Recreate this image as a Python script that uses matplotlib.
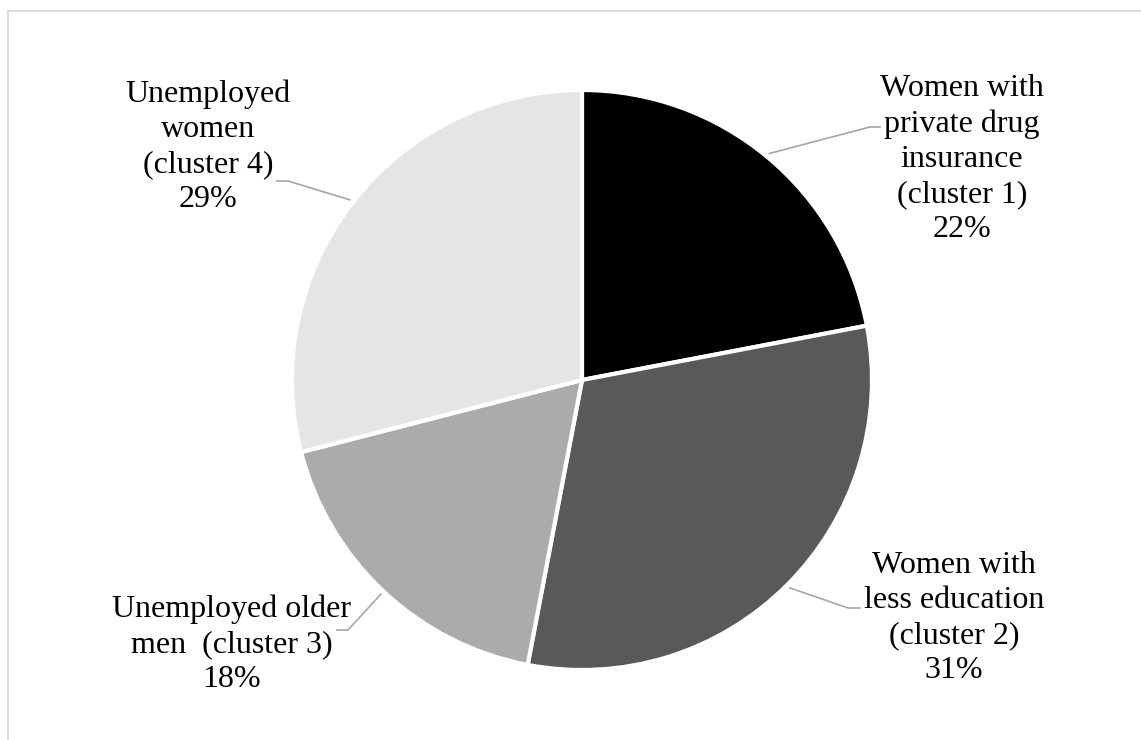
import numpy as np
import matplotlib
matplotlib.use("Agg")
import matplotlib.pyplot as plt
from matplotlib.patches import Rectangle

# Cluster shares (percent), clockwise from 12 o'clock
labels = [
    "Women with\nprivate drug\ninsurance\n(cluster 1)",
    "Women with\nless education\n(cluster 2)",
    "Unemployed older\nmen  (cluster 3)",
    "Unemployed\nwomen\n(cluster 4)",
]
shares = [22, 31, 18, 29]
colors = ["#000000", "#595959", "#ababab", "#e5e5e5"]

W, H = 1141, 740
plt.rcParams["font.family"] = ["Liberation Serif", "DejaVu Serif"]

fig = plt.figure(figsize=(W / 100, H / 100), dpi=100)
ax = fig.add_axes([0, 0, 1, 1])
ax.set_xlim(0, W)
ax.set_ylim(0, H)
ax.set_aspect("equal")
ax.axis("off")

# outer frame (only top and left edges fall inside the canvas)
ax.add_patch(Rectangle((8, -20), W + 40, H - 11 + 20, fill=False,
                       edgecolor="#d9d9d9", linewidth=1.3))

cx, cy, r = 582, H - 380, 290
wedges, _ = ax.pie(shares, colors=colors, startangle=90, counterclock=False,
                   center=(cx, cy), radius=r,
                   wedgeprops=dict(edgecolor="white", linewidth=3.0))
ax.set_xlim(0, W)
ax.set_ylim(0, H)

# label block centres and leader-line elbows
label_pos = [(962, H - 159), (954, H - 618), (232, H - 644), (208, H - 147)]
elbows = [((870, H - 127), (880, H - 127)),
          ((848, H - 608), (860, H - 608)),
          ((348, H - 630), (337, H - 630)),
          ((288, H - 181), (277, H - 181))]

for w, lab, val, (lx, ly), (e1, e2) in zip(wedges, labels, shares, label_pos, elbows):
    mid = np.deg2rad((w.theta1 + w.theta2) / 2)
    sx = cx + (r + 4) * np.cos(mid)
    sy = cy + (r + 4) * np.sin(mid)
    ax.plot([sx, e1[0], e2[0]], [sy, e1[1], e2[1]], color="#a6a6a6",
            linewidth=1.2, solid_joinstyle="miter")
    ax.text(lx, ly, f"{lab}\n{val}%", ha="center", va="center",
            multialignment="center", fontsize=23, linespacing=1.28,
            color="#000000")

fig.savefig("out.png", dpi=100, facecolor="white")
